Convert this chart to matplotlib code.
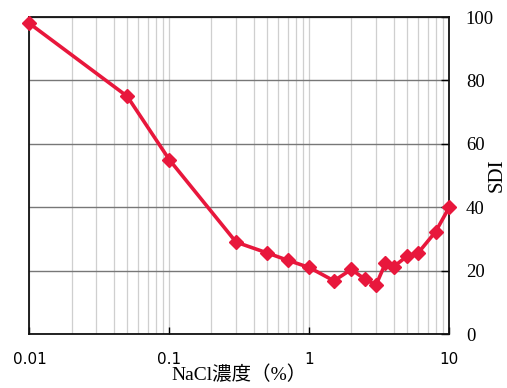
import matplotlib.pyplot as plt
from matplotlib.ticker import FixedLocator, FixedFormatter, LogLocator, NullFormatter

# NaCl concentration (%) vs SDI
nacl = [0.01, 0.05, 0.1, 0.3, 0.5, 0.7, 1.0, 1.5, 2.0, 2.5, 3.0, 3.5, 4.0, 5.0, 6.0, 8.0, 10.0]
sdi = [98, 75, 55, 29, 25.6, 23.3, 21, 16.8, 20.4, 17.3, 15.5, 22.3, 21.2, 24.6, 25.6, 32.3, 40]

x_ticks = [0.01, 0.1, 1, 10]
x_labels = ["0.01", "0.1", "1", "10"]
y_ticks = [0, 20, 40, 60, 80, 100]

fig = plt.figure(figsize=(5.07, 3.88), dpi=100)
ax = fig.add_axes([0.058, 0.139, 0.828, 0.817])

ax.set_xscale("log")
ax.set_xlim(0.01, 10)
ax.set_ylim(0, 100)

# grid: light vertical lines on every log step, darker horizontal lines
ax.xaxis.set_major_locator(FixedLocator(x_ticks))
ax.xaxis.set_major_formatter(FixedFormatter(x_labels))
ax.xaxis.set_minor_locator(LogLocator(base=10, subs=range(2, 10)))
ax.xaxis.set_minor_formatter(NullFormatter())
ax.grid(True, axis="x", which="both", color="#cfcfcf", linewidth=0.9)
ax.set_yticks(y_ticks)
ax.grid(True, axis="y", which="major", color="#777777", linewidth=1.0)
ax.set_axisbelow(True)

ax.plot(nacl, sdi, color="#e8173c", linewidth=2.6, marker="D", markersize=7.5,
        markerfacecolor="#e8173c", markeredgecolor="#e8173c", clip_on=False, zorder=5)

for s in ax.spines.values():
    s.set_color("#111111")
    s.set_linewidth(1.3)

ax.tick_params(axis="x", which="major", direction="in", length=5, width=1, pad=13,
               labelsize=11)
ax.tick_params(axis="x", which="minor", length=0)
for lab in ax.get_xticklabels():
    lab.set_family("DejaVu Sans")

ax.yaxis.tick_right()
ax.tick_params(axis="y", direction="in", length=6, width=1, pad=12, labelsize=13.5,
               left=False, right=True)
for lab in ax.get_yticklabels():
    lab.set_family("Liberation Serif")

ax.text(1.113, 0.5, "SDI", transform=ax.transAxes, rotation=90, ha="center",
        va="center", family="Liberation Serif", fontsize=15)
ax.set_xlabel("NaCl濃度（%）", family=["Liberation Serif", "Noto Sans CJK JP"],
              fontsize=14, labelpad=-1)

fig.savefig("out.png", dpi=100)
